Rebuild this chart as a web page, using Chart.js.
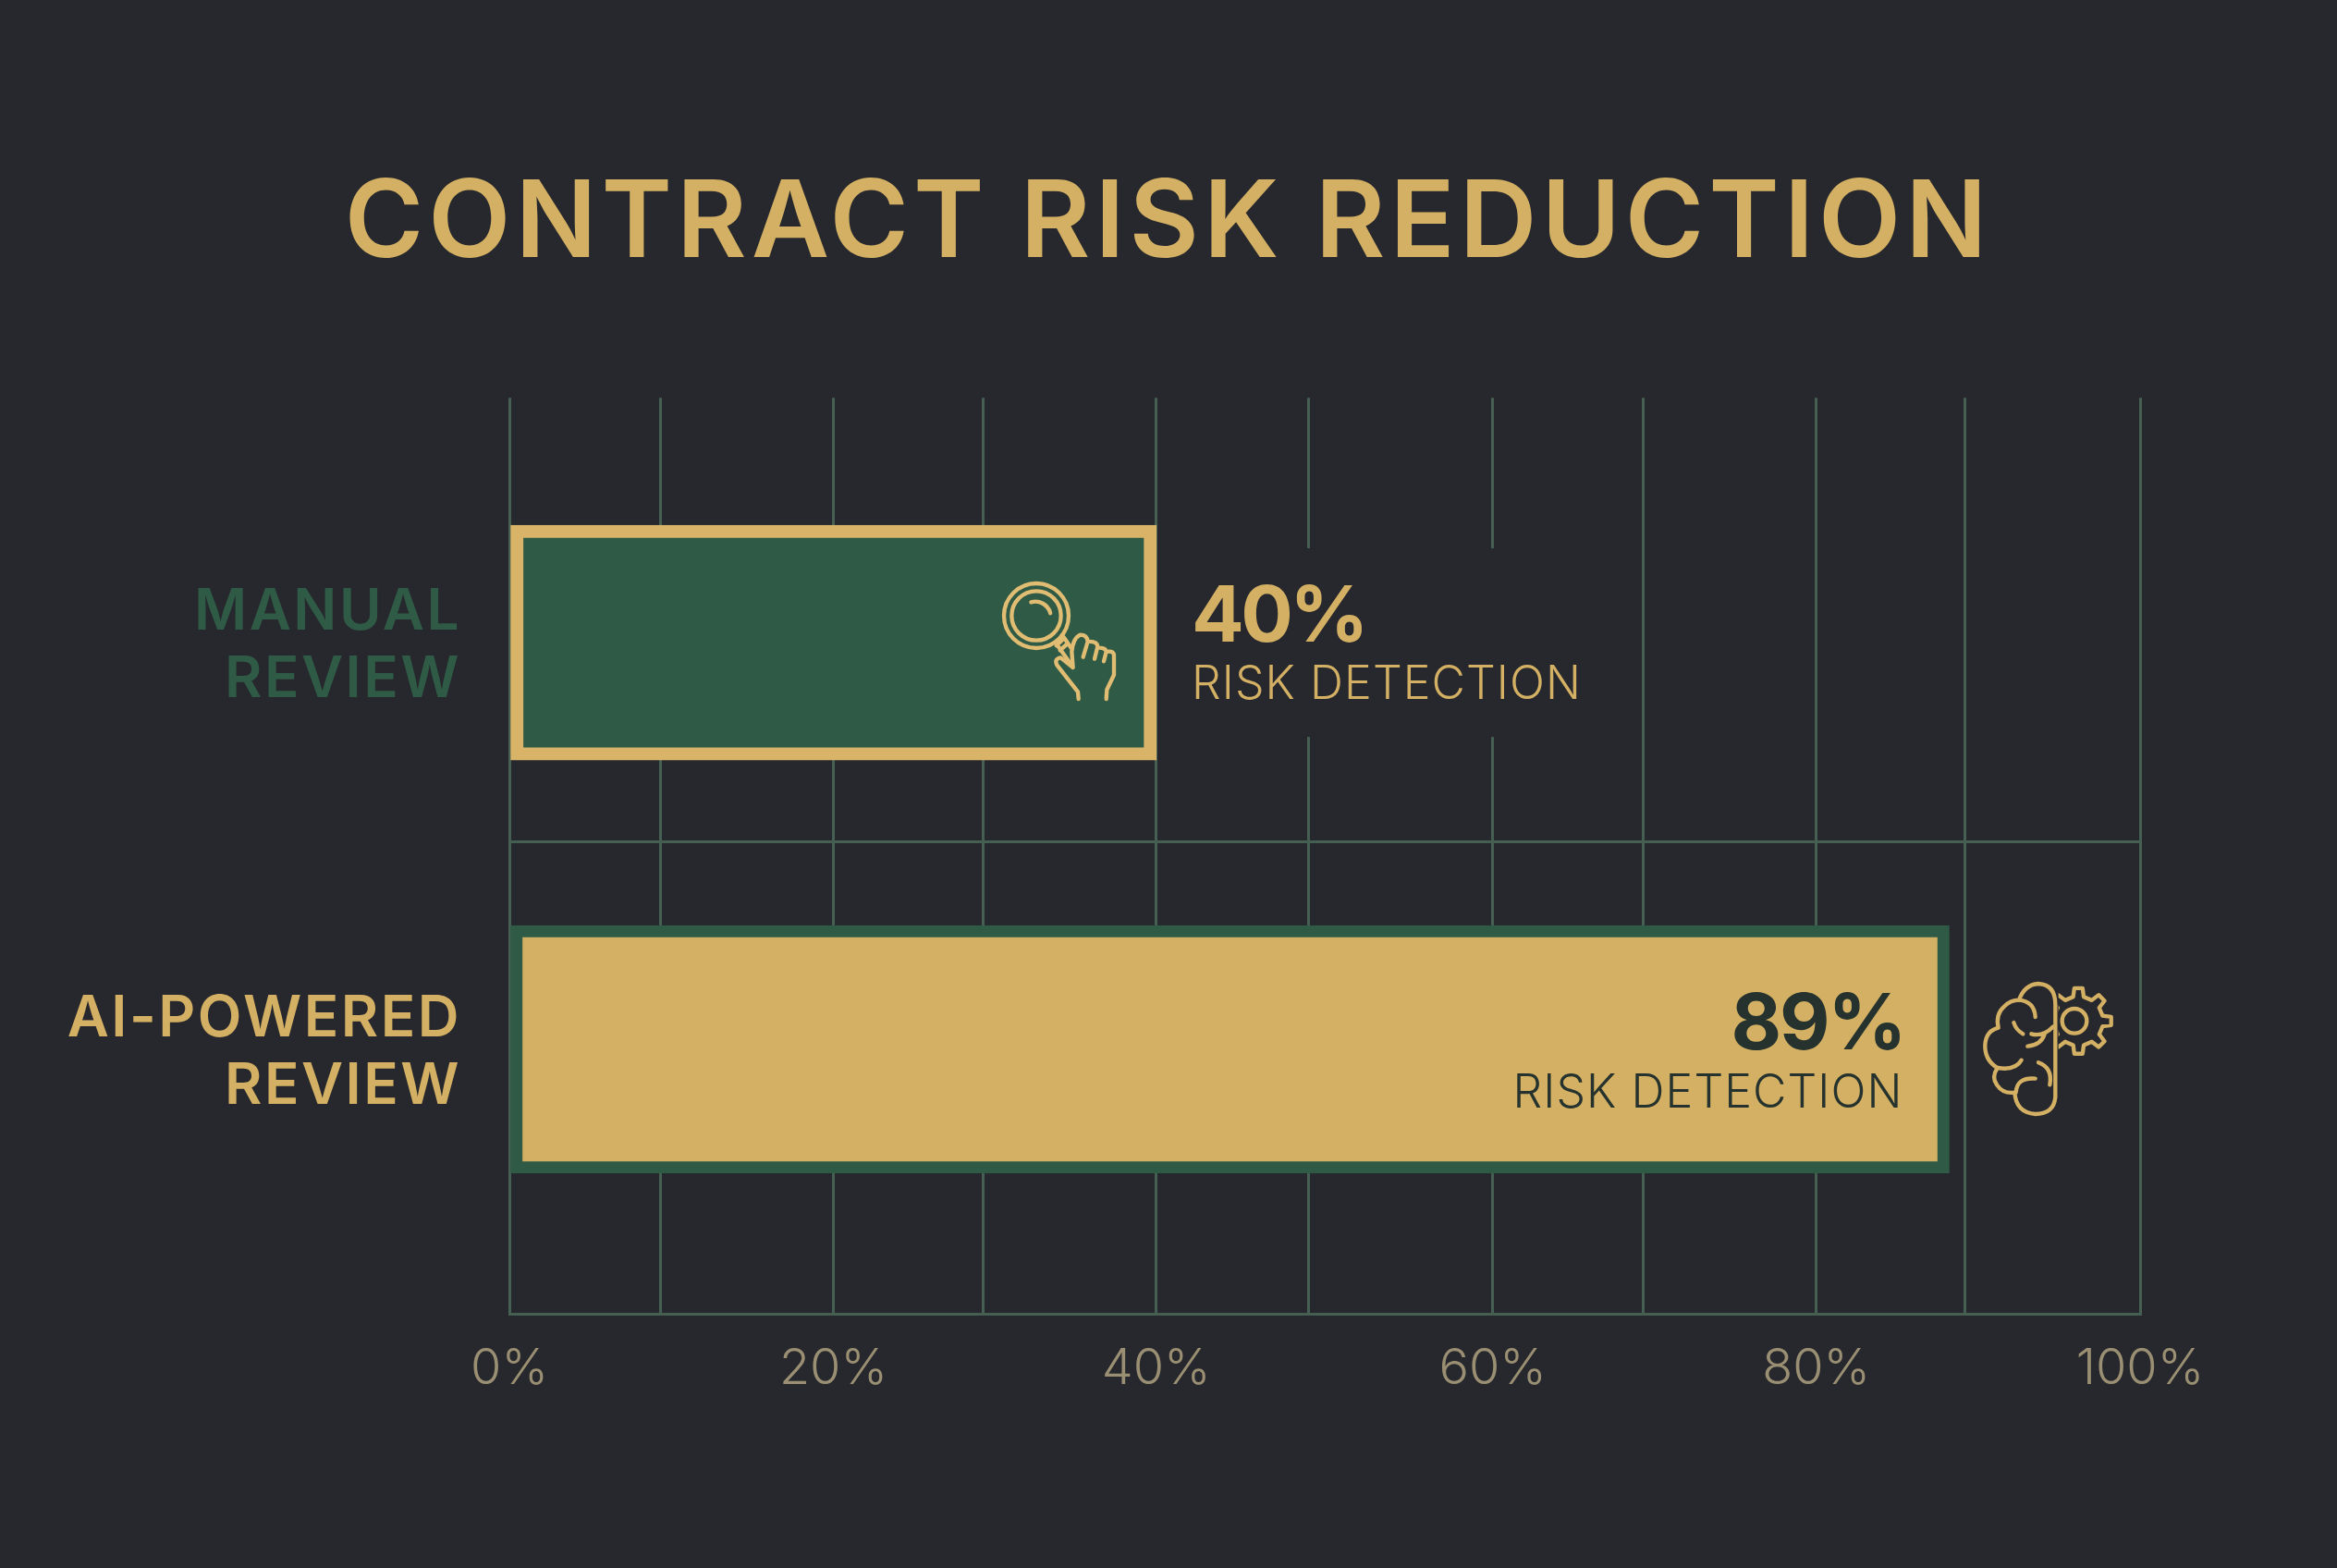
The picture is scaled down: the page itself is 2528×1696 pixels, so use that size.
<!DOCTYPE html>
<html><head><meta charset="utf-8">
<style>html,body{margin:0;padding:0;background:#26282d}canvas{display:block}</style>
<script src="https://cdn.jsdelivr.net/npm/chart.js@4"></script></head>
<body><canvas id="c" width="2528" height="1696"></canvas>
<script>
const titleText = 'CONTRACT RISK REDUCTION';
const categories = [['MANUAL','REVIEW'],['AI-POWERED','REVIEW']];
const values = [40, 89];
const valueCaption = 'RISK DETECTION';
const tickLabels = ['0%','20%','40%','60%','80%','100%'];
// where each gridline of the picture falls, read in axis units (the picture's grid is slightly uneven)
const gridStops = [0,9.34,20.03,29.28,39.98,49.38,60.78,70.08,80.78,89.98,100.8];
const dividerStop = 0.49;

const BG='#26282d',GOLD='#d3b063',EDGE='#d9b468',GREEN='#2f5a45',GRID='#465f53',DARK='#25322d';
const FONT='Inter, "Open Sans", sans-serif';
const styles=[{fill:GREEN,border:EDGE,edge:14,thick:254},{fill:GOLD,border:GREEN,edge:13,thick:268}];

function txt(ctx,s,x,y,font,color,align,width){
  ctx.save();ctx.font=font;ctx.fillStyle=color;ctx.textAlign=align;ctx.textBaseline='alphabetic';
  if(width){const w=ctx.measureText(s).width;ctx.letterSpacing=((width-w)/s.length)+'px';}
  ctx.fillText(s,x,y);ctx.restore();
}
function magnifier(ctx){
  ctx.save();ctx.translate(1040,590);ctx.scale(1/3,1/3);
  ctx.strokeStyle='#e0bd73';ctx.lineWidth=13;ctx.lineCap='round';ctx.lineJoin='round';
  ctx.beginPath();ctx.arc(243,228,105,0,Math.PI*2);ctx.stroke();
  ctx.beginPath();ctx.arc(243,228,80,0,Math.PI*2);ctx.stroke();
  ctx.beginPath();ctx.arc(240,232,50,-1.85,-0.25);ctx.stroke();
  ctx.stroke(new Path2D('M310 322 L360 392 M332 298 L356 332 M308 325 L334 300 M320 340 L345 318'));
  ctx.stroke(new Path2D('M380 498 L378 475 L310 388 Q300 368 322 364 L362 396 L358 345 Q362 300 385 290 Q408 290 410 312 L395 362 M410 312 Q440 310 442 328 L432 368 M442 332 Q468 330 470 345 L462 376 M470 345 Q497 340 495 360 L495 420 L472 468 L470 498'));
  ctx.restore();
}
function brainGear(ctx){
  ctx.save();ctx.translate(2110,1040);ctx.scale(1/3,1/3);
  ctx.strokeStyle=GOLD;ctx.lineWidth=13;ctx.lineCap='round';ctx.lineJoin='round';
  ctx.stroke(new Path2D('M340 140 L340 440 Q335 495 275 495 Q212 490 208 425 Q170 430 150 400 Q132 375 152 345 Q110 320 112 270 Q115 225 155 215 Q145 170 175 145 Q195 125 222 125 Q240 75 285 72 Q340 75 340 140'));
  ctx.stroke(new Path2D('M222 125 Q272 130 275 180 M205 198 Q212 222 235 235 M262 235 Q300 245 332 212 M250 275 Q295 270 305 235 M230 320 Q210 355 152 345 M285 328 Q332 345 322 400 M275 380 Q215 375 212 425'));
  ctx.beginPath();ctx.arc(402,193,40,0,Math.PI*2);ctx.stroke();
  ctx.beginPath();ctx.rect(350,60,200,270);ctx.clip();
  ctx.beginPath();
  const n=8,c=[415,193];
  for(let i=0;i<n;i++){
    const a=i/n*Math.PI*2-Math.PI/2,d=Math.PI/n;
    [[-0.55,80],[-0.32,107],[0.32,107],[0.55,80]].forEach((p,j)=>{
      const t=a+p[0]*d,X=c[0]+p[1]*Math.cos(t),Y=c[1]+p[1]*Math.sin(t);
      (i===0&&j===0)?ctx.moveTo(X,Y):ctx.lineTo(X,Y);
    });
  }
  ctx.closePath();ctx.stroke();
  ctx.restore();
}
const overlay={id:'overlay',
  beforeDatasetsDraw(ch){
    const ctx=ch.ctx,x=ch.scales.x,y=ch.scales.y;
    // the caption of the first bar sits on a clear patch that interrupts the grid
    ctx.save();ctx.fillStyle=BG;ctx.fillRect(x.getPixelForValue(values[0])+30,y.getPixelForValue(0)-102,440,204);ctx.restore();
  },
  afterDatasetsDraw(ch){
    const ctx=ch.ctx,x=ch.scales.x,y=ch.scales.y;
    const a=x.getPixelForValue(values[0]),ay=y.getPixelForValue(0);
    txt(ctx,values[0]+'%',a+38,ay-1,'700 84px '+FONT,GOLD,'left',188);
    txt(ctx,valueCaption,a+38,ay+61,'300 50px '+FONT,GOLD,'left',422);
    const b=x.getPixelForValue(values[1]),by=y.getPixelForValue(1);
    txt(ctx,values[1]+'%',b-48,by,'700 84px '+FONT,DARK,'right',188);
    txt(ctx,valueCaption,b-50,by+63,'300 50px '+FONT,DARK,'right',422);
    magnifier(ctx);brainGear(ctx);
  }};
const chart=new Chart(document.getElementById('c'),{
  type:'bar',
  data:{datasets:categories.map((c,i)=>({label:c.join(' '),data:[{x:values[i],y:i}],backgroundColor:styles[i].fill,borderColor:styles[i].border,borderWidth:styles[i].edge,borderSkipped:false,barThickness:styles[i].thick,grouped:false}))},
  options:{indexAxis:'y',responsive:false,animation:false,devicePixelRatio:1,
    layout:{padding:{top:0,left:0,right:213,bottom:0}},
    scales:{
      x:{type:'linear',min:0,max:100.8,
        afterBuildTicks(s){s.ticks=gridStops.map(v=>({value:v}));},
        afterFit(s){s.height=275;},
        grid:{color:GRID,lineWidth:3,drawTicks:false},
        border:{display:true,color:GRID,width:3},
        ticks:{autoSkip:false,maxRotation:0,padding:27,color:'#9a8f72',font:{family:FONT,size:54,weight:'300'},
          callback:(v,i)=>i%2===0?tickLabels[i/2]:''}},
      y:{type:'linear',min:-0.602,max:1.65,reverse:true,offset:false,
        afterBuildTicks(s){s.ticks=[0,dividerStop,1].map(v=>({value:v}));},
        afterFit(s){s.width=551;},
        grid:{offset:false,drawTicks:false,lineWidth:3,color:c=>c.tick&&c.tick.value===dividerStop?GRID:'rgba(0,0,0,0)'},
        border:{display:false},
        ticks:{autoSkip:false,padding:52,font:{family:FONT,size:62,weight:'600',lineHeight:1.17},
          color:c=>c.tick.value===1?GOLD:GREEN,
          callback:v=>v===0?categories[0]:v===1?categories[1]:''}}
    },
    plugins:{legend:{display:false},tooltip:{enabled:false},
      title:{display:true,text:titleText,color:GOLD,font:{family:FONT,size:116,weight:'600',lineHeight:1.2},padding:{top:174,bottom:117}}}
  },
  plugins:[overlay]
});
// Montserrat-like tracking; the title is centred on the page rather than on the space left of the right padding
function track(obj,method,px,dx,dy){
  const fn=obj[method];
  obj[method]=function(...a){const c=chart.ctx;c.save();c.letterSpacing=px;c.translate(dx,dy);fn.apply(this,a);c.restore();};
}
track(chart.titleBlock,'draw','5px',106,0);
track(chart.scales.y,'drawLabels','2.5px',0,4);
chart.draw();
</script></body></html>
